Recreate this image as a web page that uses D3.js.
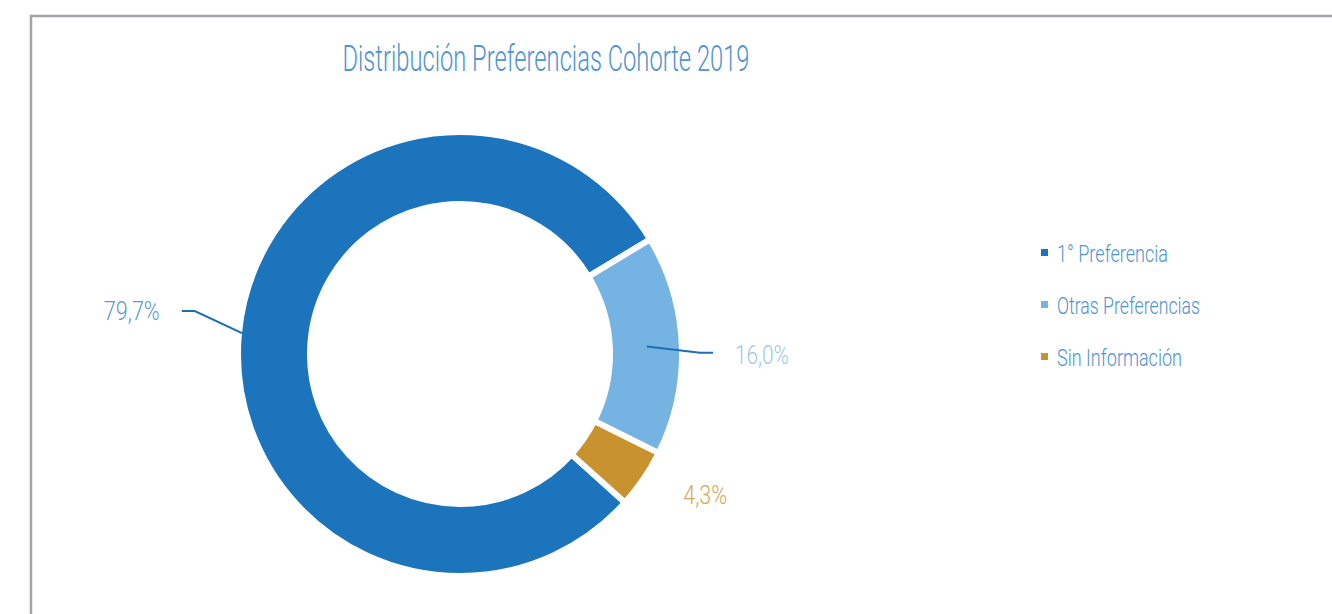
<!DOCTYPE html>
<html>
<head>
<meta charset="utf-8">
<script src="https://cdn.jsdelivr.net/npm/d3@7"></script>
<style>
  body { margin: 0; background: #fff; }
  text { font-family: "Roboto", "Open Sans", "DejaVu Sans Condensed", sans-serif; font-weight: 300; }
</style>
</head>
<body>
<div id="chart"></div>
<script>
var categories = ["1° Preferencia", "Otras Preferencias", "Sin Información"];
var values = [79.7, 16.0, 4.3];
var valueLabels = ["79,7%", "16,0%", "4,3%"];
var colors = ["#1c75bc", "#74b3e2", "#c8922f"];
var labelColors = ["#5b9bd5", "#9dc8ec", "#d4a75a"];

var width = 1332;
var height = 614;

var svg = d3.select("#chart").append("svg")
    .attr("width", width)
    .attr("height", height);

// marco
svg.append("rect")
    .attr("x", 31)
    .attr("y", 16)
    .attr("width", 1400)
    .attr("height", 700)
    .attr("fill", "none")
    .attr("stroke", "#a2a2a9")
    .attr("stroke-width", 2.5);

// titulo
svg.append("text")
    .attr("x", 546)
    .attr("y", 71)
    .attr("text-anchor", "middle")
    .attr("fill", "#4f93d1")
    .style("font-size", "36px")
    .attr("textLength", 407)
    .attr("lengthAdjust", "spacingAndGlyphs")
    .text("Distribución Preferencias Cohorte 2019");

var cx = 460, cy = 354;
var outerR = 222, innerR = 150;
var deg = Math.PI / 180;

var data = categories.map(function(c, i) {
    return { id: c, value: values[i], label: valueLabels[i], color: colors[i], labelColor: labelColors[i] };
});

var pie = d3.pie()
    .sort(null)
    .value(function(d) { return d.value; })
    .startAngle(132 * deg)
    .endAngle(132 * deg + 2 * Math.PI);

var arc = d3.arc()
    .innerRadius(innerR)
    .outerRadius(outerR);

var chart = svg.append("g")
    .attr("transform", "translate(" + cx + "," + cy + ")");

var arcs = pie(data);

chart.selectAll("path.slice")
    .data(arcs)
    .enter()
    .append("path")
        .classed("slice", true)
        .attr("d", arc)
        .attr("fill", function(d) { return d.data.color; })
        .attr("stroke", "#fff")
        .attr("stroke-width", 6)
        .attr("stroke-linejoin", "miter");

// etiquetas: desplazamiento angular, radio de etiqueta, radio de inicio de guia
var labelLayout = [
    { shift: 2, r: 331, from: 219, anchor: "end", width: 56 },
    { shift: 2.4, r: 302, from: 187, anchor: "start", width: 54 },
    { shift: -4.3, r: 283, from: null, anchor: "middle", width: 44 }
];

function polar(a, r) {
    return [r * Math.sin(a), -r * Math.cos(a)];
}

arcs.forEach(function(d, i) {
    var L = labelLayout[i];
    var mid = (d.startAngle + d.endAngle) / 2;
    var p = polar(mid + L.shift * deg, L.r);
    var tx = p[0], ty = p[1];
    if (L.anchor === "end") tx = p[0] + L.width / 2;
    if (L.anchor === "start") tx = p[0] - L.width / 2;

    if (L.from !== null) {
        var s = polar(mid, L.from);
        var dir = L.anchor === "end" ? 1 : -1;
        var elbow = [tx + dir * 35, ty - (dir > 0 ? 0 : 2)];
        var end = [tx + dir * 22, elbow[1]];
        chart.append("path")
            .attr("d", d3.line()([s, elbow, end]))
            .attr("fill", "none")
            .attr("stroke", "#1c6fb6")
            .attr("stroke-width", 2);
    }

    chart.append("text")
        .attr("x", tx)
        .attr("y", ty + 9)
        .attr("text-anchor", L.anchor)
        .attr("fill", d.data.labelColor)
        .style("font-size", "25px")
        .attr("textLength", L.width)
        .attr("lengthAdjust", "spacingAndGlyphs")
        .text(d.data.label);
});

// leyenda
var legendY = d3.scalePoint()
    .domain(categories)
    .range([253, 357]);

var legendWidths = [111, 143, 125];

var legend = svg.selectAll("g.legend")
    .data(data)
    .enter()
    .append("g")
        .classed("legend", true)
        .attr("transform", function(d) { return "translate(1041," + legendY(d.id) + ")"; });

legend.append("rect")
    .attr("x", 0)
    .attr("y", -4)
    .attr("width", 7)
    .attr("height", 7)
    .attr("fill", function(d) { return d.color; });

legend.append("text")
    .attr("x", 16)
    .attr("y", 8.5)
    .attr("fill", "#4f93d1")
    .style("font-size", "24px")
    .attr("textLength", function(d, i) { return legendWidths[i]; })
    .attr("lengthAdjust", "spacingAndGlyphs")
    .text(function(d) { return d.id; });
</script>
</body>
</html>
